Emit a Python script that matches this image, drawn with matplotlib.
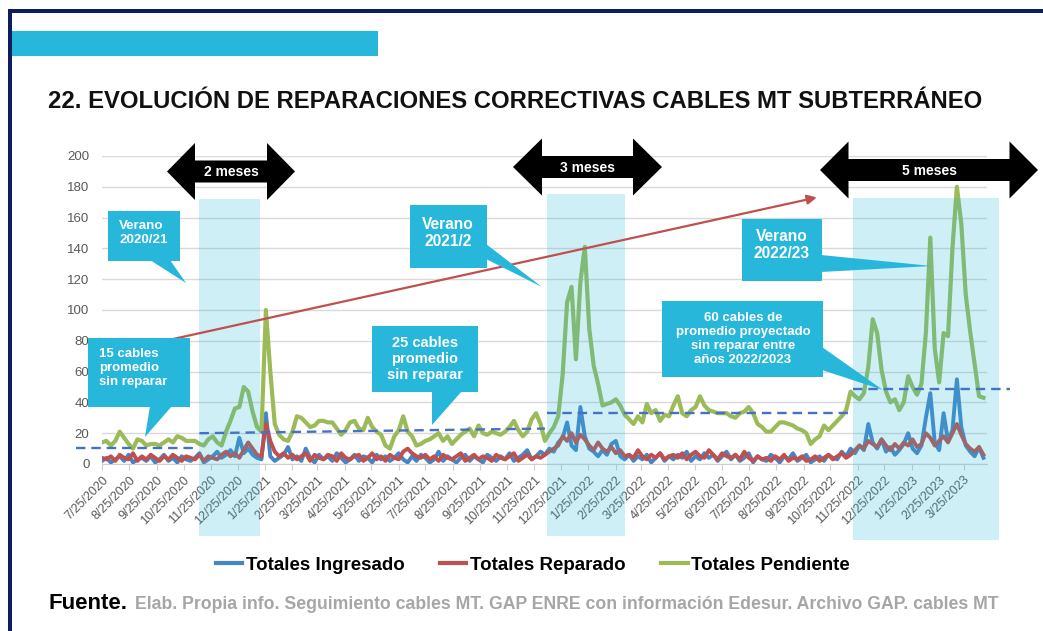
import pandas as pd
import matplotlib.pyplot as plt
from matplotlib.patches import Rectangle, Polygon
from matplotlib.lines import Line2D

plt.rcParams['font.family'] = ['Liberation Sans', 'DejaVu Sans']

W, H = 1043, 631

# cables MT, valores cada 5 dias desde 25/7/2020
ingresado = [2, 4, 1, 3, 5, 2, 6, 1, 3, 4,
             2, 5, 1, 3, 6, 2, 4, 1, 5, 3,
             2, 4, 7, 1, 3, 5, 8, 4, 6, 9,
             5, 17, 7, 10, 6, 4, 3, 33, 5, 2,
             4, 6, 11, 3, 5, 2, 10, 4, 1, 6,
             3, 5, 2, 7, 4, 1, 3, 6, 2, 5,
             4, 1, 6, 3, 5, 2, 4, 7, 3, 1,
             5, 2, 6, 4, 1, 3, 8, 2, 5, 3,
             1, 4, 6, 2, 5, 3, 1, 6, 4, 2,
             5, 3, 7, 2, 4, 6, 9, 3, 5, 8,
             6, 10, 8, 14, 17, 27, 12, 9, 37, 18,
             10, 8, 5, 9, 6, 13, 15, 5, 3, 6,
             2, 5, 3, 6, 1, 4, 7, 2, 5, 3,
             6, 4, 8, 2, 5, 3, 7, 4, 6, 2,
             5, 8, 3, 6, 2, 4, 7, 1, 5, 3,
             2, 6, 4, 1, 5, 3, 7, 2, 4, 6,
             1, 3, 5, 2, 6, 4, 3, 8, 5, 10,
             7, 12, 9, 26, 14, 10, 16, 8, 11, 6,
             9, 13, 20, 10, 7, 12, 30, 46, 14, 9,
             33, 15, 22, 55, 24, 12, 8, 5, 11, 4]
reparado = [4, 3, 5, 2, 6, 4, 3, 7, 2, 5,
            3, 6, 4, 2, 5, 3, 6, 4, 2, 5,
            4, 3, 6, 2, 5, 4, 3, 6, 8, 5,
            7, 4, 9, 14, 10, 6, 5, 26, 15, 8,
            5, 7, 4, 6, 3, 5, 7, 2, 6, 4,
            3, 6, 5, 2, 7, 4, 3, 5, 6, 2,
            4, 7, 3, 5, 2, 6, 4, 3, 8, 10,
            7, 5, 4, 6, 3, 5, 2, 6, 4, 3,
            5, 7, 2, 4, 6, 3, 5, 4, 2, 6,
            4, 3, 5, 7, 2, 4, 6, 3, 5, 4,
            6, 8, 10, 12, 18, 15, 20, 14, 19, 16,
            12, 9, 14, 10, 8, 11, 7, 9, 5, 6,
            4, 9, 5, 3, 6, 4, 7, 3, 5, 6,
            4, 7, 3, 6, 8, 5, 4, 9, 6, 3,
            7, 5, 4, 6, 3, 8, 4, 2, 5, 3,
            4, 2, 5, 3, 6, 2, 4, 3, 5, 2,
            3, 5, 2, 4, 6, 3, 5, 7, 4, 6,
            9, 12, 10, 15, 13, 11, 16, 12, 9, 13,
            10, 14, 12, 16, 11, 13, 20, 17, 12, 15,
            18, 14, 20, 26, 19, 13, 10, 8, 11, 6]
pendiente = [14, 15, 12, 15, 21, 17, 13, 10, 16, 15,
             12, 13, 13, 12, 14, 16, 14, 18, 17, 15,
             15, 15, 13, 12, 16, 18, 14, 12, 21, 28,
             36, 37, 50, 47, 34, 24, 21, 100, 60, 26,
             19, 16, 15, 21, 31, 30, 27, 24, 25, 28,
             28, 27, 27, 23, 19, 22, 27, 28, 23, 22,
             30, 24, 21, 19, 12, 10, 18, 22, 31, 21,
             18, 12, 13, 15, 16, 18, 20, 15, 18, 13,
             16, 19, 21, 23, 18, 25, 20, 19, 21, 20,
             19, 21, 24, 28, 22, 18, 21, 29, 33, 26,
             15, 20, 24, 31, 58, 105, 115, 68, 118, 141,
             88, 64, 52, 38, 39, 40, 42, 38, 32, 29,
             26, 31, 27, 39, 33, 35, 28, 32, 31, 38,
             44, 33, 31, 35, 37, 44, 38, 35, 34, 33,
             33, 33, 31, 30, 33, 34, 37, 33, 26, 24,
             21, 21, 24, 27, 27, 26, 25, 23, 22, 20,
             13, 16, 18, 25, 22, 25, 28, 31, 35, 47,
             44, 42, 46, 63, 94, 85, 61, 47, 40, 42,
             35, 40, 57, 50, 45, 52, 85, 147, 75, 53,
             85, 83, 140, 180, 156, 110, 86, 65, 44, 43]
fechas = pd.date_range('2020-07-25', periods=len(pendiente), freq='5D')
ticks = pd.date_range('2020-07-25', '2023-03-25', freq=pd.DateOffset(months=1))

# promedios sin reparar por tramo
prom_ini = ['2020-06-26', '2020-11-12', '2021-12-09', '2022-11-20']
prom_fin = ['2020-11-09', '2021-12-07', '2022-11-14', '2023-05-16']
prom_desde = [10.5, 20, 33, 48.5]
prom_hasta = [10.5, 23, 33, 48.5]

# veranos
verano_ini = ['2020-11-12', '2021-12-09', '2022-11-20']
verano_fin = ['2021-01-19', '2022-03-07', '2023-05-04']

AZUL = '#4585c6'
ROJO = '#c0504d'
VERDE = '#9bbb59'
CIAN = '#27b7da'
GRIS = '#595959'

fig = plt.figure(figsize=(W / 100, H / 100), dpi=100)
ax = fig.add_axes([102 / W, 1 - 464 / H, 885 / W, 308 / H])

ax.plot(fechas, ingresado, color=AZUL, lw=2.8, zorder=3)
ax.plot(fechas, reparado, color=ROJO, lw=2.8, zorder=3)
ax.plot(fechas, pendiente, color=VERDE, lw=3.0, zorder=3)

ax.set_ylim(0, 200)
ax.set_xlim(pd.Timestamp('2020-07-25'), pd.Timestamp('2023-04-20'))
ax.set_yticks(range(0, 201, 20))
ax.yaxis.grid(True, color='#d9d9d9', lw=1)
ax.set_axisbelow(True)
for s in ['top', 'right', 'left']:
    ax.spines[s].set_visible(False)
ax.spines['bottom'].set_color('#d0d0d0')
ax.tick_params(axis='y', length=0, pad=9, labelsize=9.5, labelcolor=GRIS)
ax.set_xticks(ticks)
ax.set_xticklabels([f'{d.month}/{d.day}/{d.year}' for d in ticks],
                   rotation=45, ha='right', rotation_mode='anchor')
ax.tick_params(axis='x', length=4, color='#d0d0d0', pad=3, labelsize=9, labelcolor=GRIS)

# sombreado de veranos
for ini, fin, top, bot in zip(verano_ini, verano_fin, [199, 194, 198], [536, 536, 540]):
    ax.axvspan(pd.Timestamp(ini), pd.Timestamp(fin), ymin=(464 - bot) / 308, ymax=(464 - top) / 308,
               color=CIAN, alpha=0.22, lw=0, zorder=5, clip_on=False)

# promedios
for ini, fin, y0, y1 in zip(prom_ini, prom_fin, prom_desde, prom_hasta):
    ax.plot([pd.Timestamp(ini), pd.Timestamp(fin)], [y0, y1], color='#4472c4', lw=1.7,
            ls=(0, (4, 2.5)), zorder=6, clip_on=False)

# tendencia
ax.annotate('', xy=(pd.Timestamp('2022-10-13'), 173.5), xytext=(pd.Timestamp('2020-10-04'), 80),
            arrowprops=dict(arrowstyle='-|>', color=ROJO, lw=1.6, mutation_scale=14),
            zorder=6, annotation_clip=False)

# capa de anotaciones en pixeles
ov = fig.add_axes([0, 0, 1, 1])
ov.set_zorder(5)
ov.set_xlim(0, W)
ov.set_ylim(H, 0)
ov.axis('off')
ov.patch.set_alpha(0)

ov.add_patch(Rectangle((8, 9), 4, H - 9, color='#0b1f5e', lw=0))
ov.add_patch(Rectangle((8, 9), W - 8, 4, color='#0b1f5e', lw=0))
ov.add_patch(Rectangle((12, 31), 366, 25, color=CIAN, lw=0))

ov.text(48, 108, '22. EVOLUCIÓN DE REPARACIONES CORRECTIVAS CABLES MT SUBTERRÁNEO',
        fontsize=17.2, fontweight='bold', color='#111111', va='baseline', ha='left')


def flecha_doble(x0, x1, yc, texto, cab=28, alto=28.5, cuerpo=11):
    pts = [(x0, yc), (x0 + cab, yc - alto), (x0 + cab, yc - cuerpo), (x1 - cab, yc - cuerpo),
           (x1 - cab, yc - alto), (x1, yc), (x1 - cab, yc + alto), (x1 - cab, yc + cuerpo),
           (x0 + cab, yc + cuerpo), (x0 + cab, yc + alto)]
    ov.add_patch(Polygon(pts, closed=True, color='black', lw=0, zorder=8))
    ov.text((x0 + x1) / 2, yc + 1, texto, color='white', fontsize=10, fontweight='bold',
            ha='center', va='center', zorder=9)


flecha_doble(167, 295, 171.5, '2 meses')
flecha_doble(513, 662, 167, '3 meses', cab=29)
flecha_doble(820, 1038, 170, '5 meses', cab=28.5)


def globo(caja, punta, texto, tx, ty, size=9.5, ha='center', esp=1.2):
    x0, y0, x1, y1 = caja
    ov.add_patch(Rectangle((x0, y0), x1 - x0, y1 - y0, color=CIAN, lw=0, zorder=10))
    ov.add_patch(Polygon(punta, closed=True, color=CIAN, lw=0, zorder=10))
    ov.text(tx, ty, texto, color='white', fontsize=size, fontweight='bold', ha=ha,
            va='center', multialignment=ha, linespacing=esp, zorder=11)


globo((108, 211, 180, 261), [(150, 260), (170, 260), (186, 283)],
      'Verano\n2020/21', 119, 233, size=9.6, ha='left', esp=1.15)
globo((88, 338, 190, 407), [(150, 406), (172, 406), (145, 437)],
      '15 cables\npromedio\nsin reparar', 99, 368, size=9.5, ha='left', esp=1.2)
globo((410, 205, 487, 268), [(486, 244), (486, 259), (542, 287)],
      'Verano\n2021/2', 448, 233, size=11.2, esp=1.2)
globo((372, 326, 478, 392), [(432, 391), (462, 391), (432, 425)],
      '25 cables\npromedio\nsin reparar', 425, 359, size=10.5, esp=1.15)
globo((742, 219, 822, 281), [(821, 255), (821, 272), (932, 266)],
      'Verano\n2022/23', 782, 245, size=11.2, esp=1.2)
globo((662, 301, 823, 377), [(822, 347), (822, 370), (883, 390)],
      '60 cables de\npromedio proyectado\nsin reparar entre\naños 2022/2023', 743, 339,
      size=9.5, esp=1.2)

# leyenda
handles = [Line2D([], [], color=AZUL, lw=3), Line2D([], [], color=ROJO, lw=3),
           Line2D([], [], color=VERDE, lw=3)]
fig.legend(handles, ['Totales Ingresado', 'Totales Reparado', 'Totales Pendiente'],
           loc='center', bbox_to_anchor=(533 / W, 1 - 565 / H), ncol=3, frameon=False,
           prop=dict(weight='bold', size=13.5), handlelength=1.4, handletextpad=0.2,
           columnspacing=1.9)

ov.text(48, 609, 'Fuente.', fontsize=16, fontweight='bold', color='black', va='baseline')
ov.text(135, 609, 'Elab. Propia info. Seguimiento cables MT. GAP ENRE con información Edesur. '
        'Archivo GAP. cables MT', fontsize=12.7, fontweight='bold', color='#a6a6a6', va='baseline')

fig.savefig('out.png', dpi=100)
